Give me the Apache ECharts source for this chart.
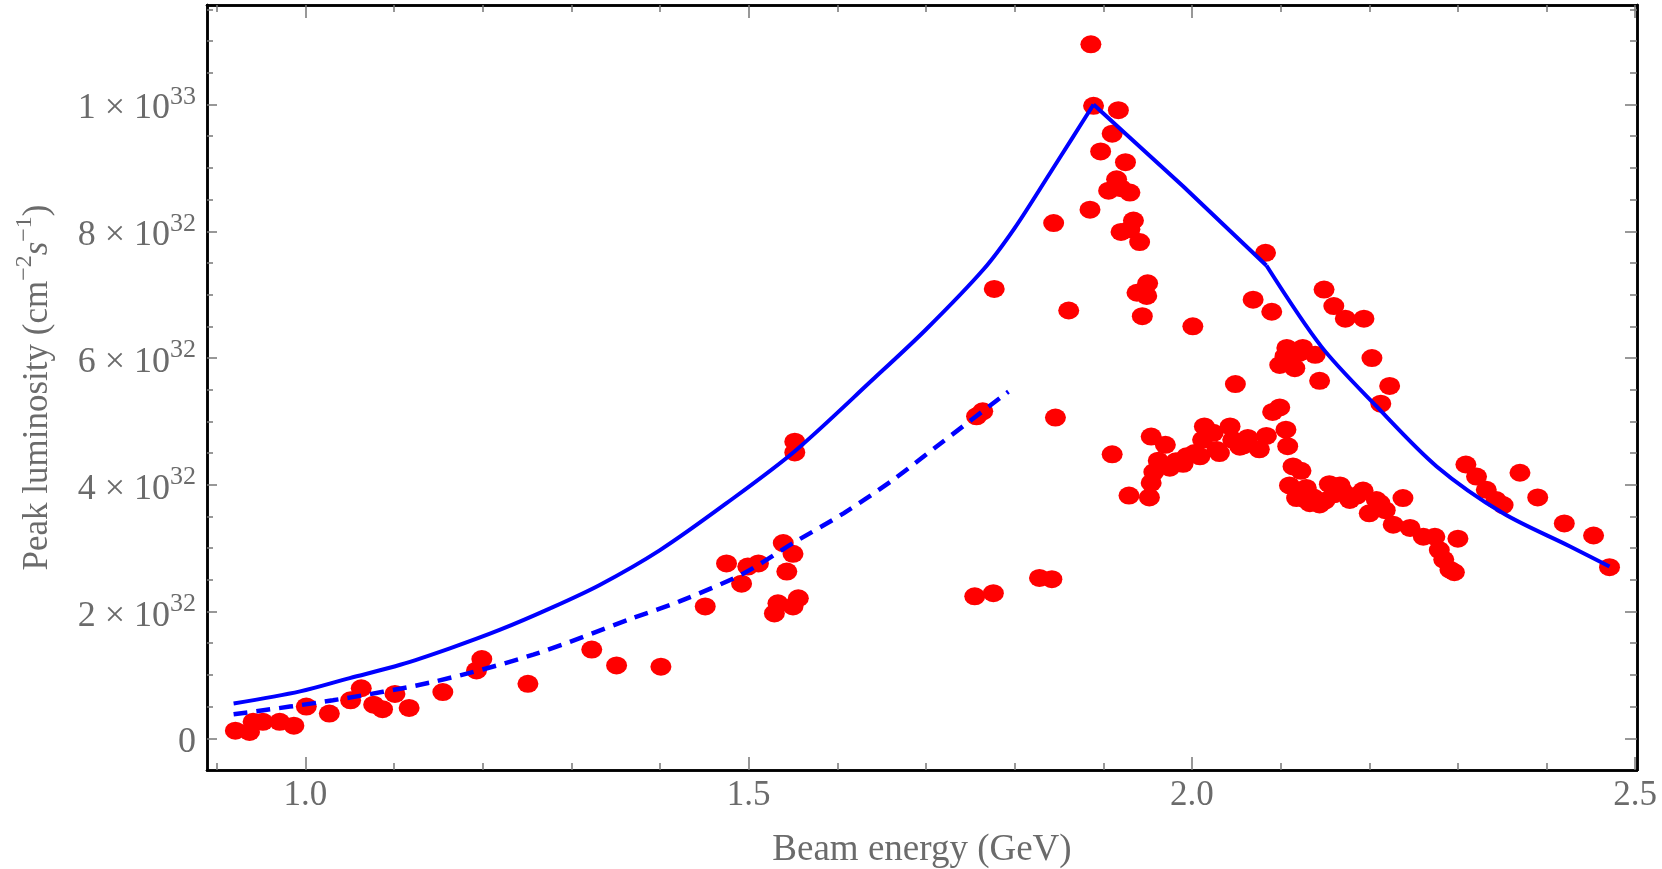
<!DOCTYPE html>
<html>
<head>
<meta charset="utf-8">
<script src="https://cdn.jsdelivr.net/npm/echarts@6/dist/echarts.min.js"></script>
<style>
  html, body { margin: 0; padding: 0; background: #fff; }
  #chart { width: 1662px; height: 869px; }
</style>
</head>
<body>
<div id="chart"></div>
<script>
// beam energy (GeV) vs peak luminosity, y values in units of 1e32 cm^-2 s^-1

// measured points [energy, luminosity]
const measured = [
  [0.921, 0.12], [0.937, 0.10], [0.941, 0.26], [0.952, 0.26], [0.971, 0.26], [0.987, 0.20],
  [1.001, 0.50], [1.027, 0.39], [1.051, 0.60], [1.063, 0.79], [1.077, 0.53], [1.087, 0.46],
  [1.101, 0.70], [1.117, 0.48], [1.155, 0.73], [1.193, 1.07], [1.199, 1.25], [1.251, 0.86],
  [1.323, 1.40], [1.351, 1.15], [1.401, 1.13],
  [1.451, 2.08], [1.475, 2.76], [1.492, 2.44], [1.499, 2.71], [1.511, 2.76], [1.529, 1.97],
  [1.533, 2.13], [1.539, 3.08], [1.543, 2.63], [1.550, 2.91], [1.550, 2.08], [1.556, 2.21],
  [1.552, 4.51], [1.552, 4.68],
  [1.755, 2.24], [1.757, 5.08], [1.764, 5.16], [1.776, 2.29], [1.777, 7.09], [1.828, 2.53],
  [1.842, 2.51], [1.844, 8.13], [1.846, 5.06], [1.861, 6.75],
  [1.885, 8.34], [1.886, 10.95], [1.889, 9.98], [1.897, 9.26], [1.906, 8.64], [1.910, 9.54],
  [1.915, 8.82], [1.917, 9.91], [1.920, 8.68], [1.920, 7.99], [1.925, 9.09], [1.930, 8.61],
  [1.930, 8.03], [1.934, 8.17], [1.938, 7.03], [1.941, 7.83], [1.944, 6.66], [1.949, 6.98],
  [1.950, 7.18], [2.001, 6.50], [2.049, 5.59], [2.069, 6.92], [2.083, 7.66], [2.090, 6.73],
  [1.910, 4.48], [1.929, 3.83], [1.952, 3.80], [1.954, 4.03], [1.957, 4.20], [1.962, 4.38],
  [1.954, 4.76], [1.970, 4.63], [1.975, 4.27], [1.982, 4.37], [1.990, 4.33], [1.994, 4.45],
  [2.003, 4.50], [2.009, 4.45], [2.012, 4.71], [2.014, 4.92], [2.024, 4.82], [2.028, 4.55],
  [2.031, 4.50], [2.043, 4.92], [2.046, 4.71], [2.054, 4.60], [2.058, 4.62], [2.063, 4.74],
  [2.076, 4.56], [2.084, 4.77],
  [2.091, 5.15], [2.099, 5.22], [2.106, 4.87], [2.108, 4.61], [2.099, 5.89], [2.105, 6.03],
  [2.107, 6.16], [2.116, 5.84], [2.121, 6.08], [2.125, 6.16], [2.139, 6.05], [2.144, 5.64],
  [2.149, 7.08], [2.160, 6.82], [2.173, 6.62], [2.194, 6.62], [2.203, 6.00], [2.213, 5.28],
  [2.223, 5.56],
  [2.114, 4.29], [2.123, 4.22], [2.110, 3.99], [2.121, 3.87], [2.118, 3.79], [2.129, 3.95],
  [2.129, 3.76], [2.133, 3.71], [2.137, 3.80], [2.144, 3.69], [2.150, 3.75], [2.155, 4.01],
  [2.160, 3.85], [2.167, 3.99], [2.170, 3.90], [2.178, 3.76], [2.186, 3.83], [2.193, 3.91],
  [2.200, 3.55], [2.208, 3.76], [2.212, 3.71], [2.218, 3.60], [2.238, 3.79], [2.227, 3.37],
  [2.246, 3.32], [2.261, 3.18], [2.274, 3.18], [2.279, 2.97], [2.284, 2.82], [2.291, 2.66],
  [2.296, 2.62], [2.300, 3.15],
  [2.309, 4.32], [2.321, 4.13], [2.332, 3.92], [2.343, 3.76], [2.351, 3.68], [2.370, 4.19],
  [2.390, 3.80], [2.420, 3.39], [2.453, 3.20], [2.471, 2.70]
];

// solid curve, in three pieces (sharp corners at the peak and at 2.084)
const solidRise = [
  [0.919, 0.55], [0.994, 0.74], [1.050, 0.95], [1.107, 1.16], [1.163, 1.42], [1.219, 1.71],
  [1.276, 2.05], [1.332, 2.42], [1.400, 2.97], [1.475, 3.71], [1.552, 4.53], [1.640, 5.66],
  [1.700, 6.45], [1.765, 7.40], [1.800, 8.05], [1.840, 8.92], [1.865, 9.47], [1.889, 10.0]
];
const solidMid = [[1.889, 10.0], [1.990, 8.71], [2.084, 7.46]];
const solidFall = [
  [2.084, 7.46], [2.146, 6.18], [2.208, 5.24], [2.276, 4.29], [2.351, 3.55],
  [2.426, 3.03], [2.471, 2.71]
];

// dashed curve
const dashedCurve = [
  [0.919, 0.38], [1.031, 0.60], [1.144, 0.89], [1.257, 1.32], [1.370, 1.90], [1.422, 2.16],
  [1.494, 2.60], [1.550, 3.08], [1.607, 3.55], [1.663, 4.08], [1.719, 4.68], [1.793, 5.47]
];

const xMajorTicks = [1.0, 1.5, 2.0, 2.5];
const xMinorTicks = [0.9, 1.1, 1.2, 1.3, 1.4, 1.6, 1.7, 1.8, 1.9, 2.1, 2.2, 2.3, 2.4];
const yMajorTicks = [0, 2, 4, 6, 8, 10];
const yMinorTicks = [0.5, 1, 1.5, 2.5, 3, 3.5, 4.5, 5, 5.5, 6.5, 7, 7.5, 8.5, 9, 9.5, 10.5, 11, 11.5];

const X_MIN = 0.889, X_MAX = 2.502;
const Y_MIN = -0.5, Y_MAX = 11.57;

const FONT = 'Liberation Serif';
const GREY = '#6b6b6b';

function yLabel(v) {
  if (v === 0) return '{n|0}';
  if (v >= 10) return '{n|' + (v / 10) + ' × 10}{s|33}';
  return '{n|' + v + ' × 10}{s|32}';
}

function xAxisDef(pos, ticks, len, withLabel) {
  return {
    type: 'value', position: pos, min: X_MIN, max: X_MAX,
    axisLine: { show: true, onZero: false, lineStyle: { color: '#000', width: 2.5 } },
    axisTick: { show: true, inside: true, length: len, customValues: ticks,
      lineStyle: { color: '#777', width: 1.5 } },
    axisLabel: withLabel ? {
      show: true, customValues: ticks, margin: 8,
      formatter: v => v.toFixed(1),
      fontFamily: FONT, fontSize: 35, color: GREY
    } : { show: false },
    splitLine: { show: false }
  };
}

function yAxisDef(pos, ticks, len, withLabel) {
  return {
    type: 'value', position: pos, min: Y_MIN, max: Y_MAX,
    axisLine: { show: true, onZero: false, lineStyle: { color: '#000', width: 2.5 } },
    axisTick: { show: true, inside: true, length: len, customValues: ticks,
      lineStyle: { color: '#777', width: 1.5 } },
    axisLabel: withLabel ? {
      show: true, customValues: ticks, margin: 11,
      padding: [9, 0, 0, 0],
      formatter: yLabel,
      rich: {
        n: { fontFamily: FONT, fontSize: 36, color: GREY, lineHeight: 50 },
        s: { fontFamily: FONT, fontSize: 26, color: GREY, verticalAlign: 'top' }
      }
    } : { show: false },
    splitLine: { show: false }
  };
}

const xAxes = [
  xAxisDef('bottom', xMajorTicks, 13, true),
  xAxisDef('bottom', xMinorTicks, 7, false),
  xAxisDef('top', xMajorTicks, 13, false),
  xAxisDef('top', xMinorTicks, 7, false)
];
xAxes[0].name = 'Beam energy (GeV)';
xAxes[0].nameLocation = 'middle';
xAxes[0].nameGap = 62;
xAxes[0].nameTextStyle = { fontFamily: FONT, fontSize: 37, color: GREY };

const yAxes = [
  yAxisDef('left', yMajorTicks, 10, true),
  yAxisDef('left', yMinorTicks, 6, false),
  yAxisDef('right', yMajorTicks, 12, false),
  yAxisDef('right', yMinorTicks, 7, false)
];
yAxes[0].name = '{n|Peak luminosity (cm}{s|−2}{i|s}{s|−1}{n|)}';
yAxes[0].nameLocation = 'middle';
yAxes[0].nameGap = 144;
yAxes[0].nameTextStyle = {
  fontFamily: FONT, fontSize: 35, color: GREY, lineHeight: 50,
  rich: {
    n: { fontFamily: FONT, fontSize: 35, color: GREY, lineHeight: 50 },
    i: { fontFamily: FONT, fontSize: 35, color: GREY, fontStyle: 'italic', lineHeight: 50 },
    s: { fontFamily: FONT, fontSize: 24, color: GREY, verticalAlign: 'top' }
  }
};

const solidStyle = { color: '#0000ff', width: 4 };

const chart = echarts.init(document.getElementById('chart'));
chart.setOption({
  animation: false,
  backgroundColor: '#fff',
  grid: { left: 207, right: 25, top: 5, bottom: 99, outerBoundsMode: 'none', containLabel: false },
  xAxis: xAxes,
  yAxis: yAxes,
  series: [
    {
      name: 'measured', type: 'scatter', data: measured,
      symbol: 'circle', symbolSize: [21, 18],
      itemStyle: { color: '#ff0000', opacity: 1 },
      z: 2
    },
    {
      name: 'solid rise', type: 'line', data: solidRise, showSymbol: false,
      smooth: 0.3, lineStyle: solidStyle, z: 3
    },
    {
      name: 'solid mid', type: 'line', data: solidMid, showSymbol: false,
      lineStyle: solidStyle, z: 3
    },
    {
      name: 'solid fall', type: 'line', data: solidFall, showSymbol: false,
      smooth: 0.3, lineStyle: solidStyle, z: 3
    },
    {
      name: 'dashed', type: 'line', data: dashedCurve, showSymbol: false,
      smooth: 0.3,
      lineStyle: { color: '#0000ff', width: 4.5, type: [14, 9] }, z: 3
    }
  ]
});
</script>
</body>
</html>
